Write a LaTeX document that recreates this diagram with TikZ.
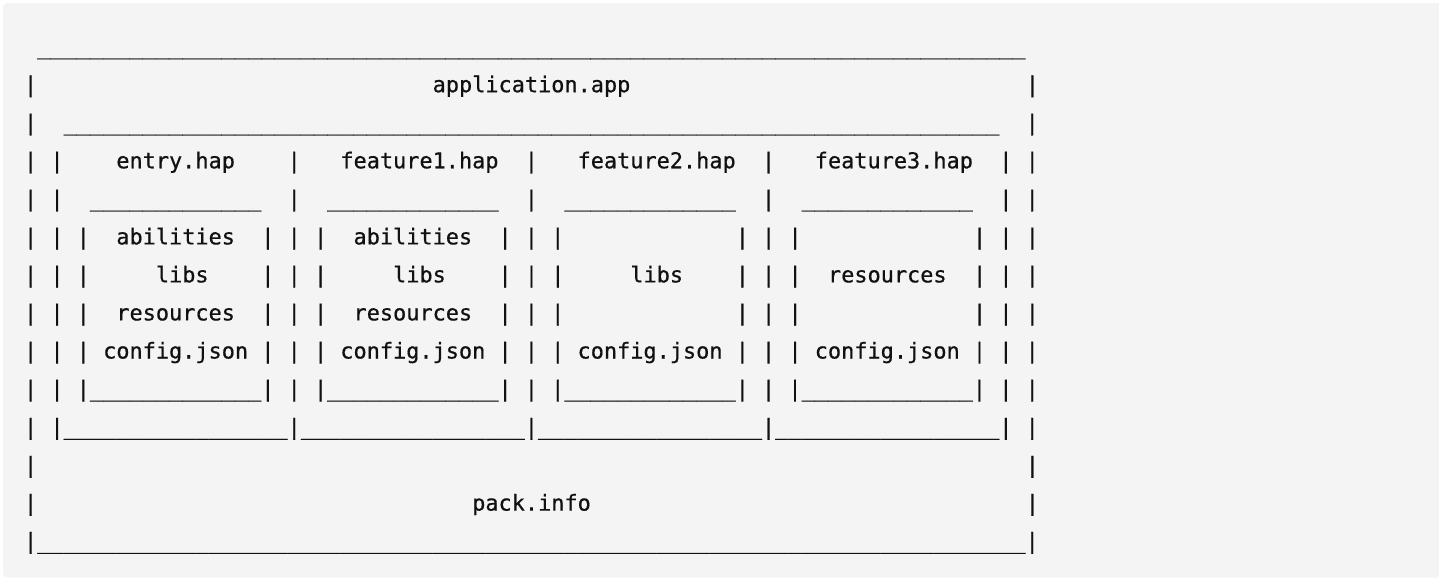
\documentclass[tikz,border=0pt]{standalone}
\usepackage{fontspec}
\newfontfamily\codefont[FakeBold=0.6]{DejaVu Sans Mono}
% one character cell of the monospaced listing
\newlength\cw
\setlength\cw{13.18pt}
% skip n empty character cells
\newcommand\Sp[1]{\kern#1\cw}
% a run of n underscores
\ExplSyntaxOn
\NewDocumentCommand\Us{m}{\prg_replicate:nn{#1}{\_}}
\ExplSyntaxOff
% a row of an inner box: 13 cells between two bars, one blank cell each side
\newcommand\In[1]{\Sp{1}|#1|\Sp{1}}
\definecolor{codebg}{HTML}{F4F4F4}
\definecolor{codefg}{HTML}{111111}
\begin{document}
\begin{tikzpicture}[x=1pt,y=-1pt,
  codeline/.style={anchor=base west, inner sep=0pt, outer sep=0pt,
    font=\codefont\fontsize{21.89pt}{38pt}\selectfont, text=codefg}]
\useasboundingbox (0,0) rectangle (1439,578);
\fill[codebg, rounded corners=4pt] (3,3) rectangle (1450,577.5);
% package layout, one listing line per node
\node[codeline] (l1)  at (24.1, 54.2) {\Sp{1}\Us{75}};
\node[codeline] (l2)  at (24.1, 92.2) {|\Sp{30}application.app\Sp{30}|};
\node[codeline] (l3)  at (24.1,130.3) {|\Sp{2}\Us{71}\Sp{2}|};
\node[codeline] (l4)  at (24.1,168.3) {|\Sp{1}|\Sp{4}entry.hap\Sp{4}|\Sp{3}feature1.hap\Sp{2}|\Sp{3}feature2.hap\Sp{2}|\Sp{3}feature3.hap\Sp{2}|\Sp{1}|};
\node[codeline] (l5)  at (24.1,206.3) {|\Sp{1}|\Sp{2}\Us{13}\Sp{2}|\Sp{2}\Us{13}\Sp{2}|\Sp{2}\Us{13}\Sp{2}|\Sp{2}\Us{13}\Sp{2}|\Sp{1}|};
\node[codeline] (l6)  at (24.1,244.4) {|\Sp{1}|\In{\Sp{2}abilities\Sp{2}}|\In{\Sp{2}abilities\Sp{2}}|\In{\Sp{13}}|\In{\Sp{13}}|\Sp{1}|};
\node[codeline] (l7)  at (24.1,282.4) {|\Sp{1}|\In{\Sp{5}libs\Sp{4}}|\In{\Sp{5}libs\Sp{4}}|\In{\Sp{5}libs\Sp{4}}|\In{\Sp{2}resources\Sp{2}}|\Sp{1}|};
\node[codeline] (l8)  at (24.1,320.4) {|\Sp{1}|\In{\Sp{2}resources\Sp{2}}|\In{\Sp{2}resources\Sp{2}}|\In{\Sp{13}}|\In{\Sp{13}}|\Sp{1}|};
\node[codeline] (l9)  at (24.1,358.5) {|\Sp{1}|\In{\Sp{1}config.json\Sp{1}}|\In{\Sp{1}config.json\Sp{1}}|\In{\Sp{1}config.json\Sp{1}}|\In{\Sp{1}config.json\Sp{1}}|\Sp{1}|};
\node[codeline] (l10) at (24.1,396.5) {|\Sp{1}|\In{\Us{13}}|\In{\Us{13}}|\In{\Us{13}}|\In{\Us{13}}|\Sp{1}|};
\node[codeline] (l11) at (24.1,434.6) {|\Sp{1}|\Us{17}|\Us{17}|\Us{17}|\Us{17}|\Sp{1}|};
\node[codeline] (l12) at (24.1,472.6) {|\Sp{75}|};
\node[codeline] (l13) at (24.1,510.6) {|\Sp{33}pack.info\Sp{33}|};
\node[codeline] (l14) at (24.1,548.7) {|\Us{75}|};
\end{tikzpicture}
\end{document}
